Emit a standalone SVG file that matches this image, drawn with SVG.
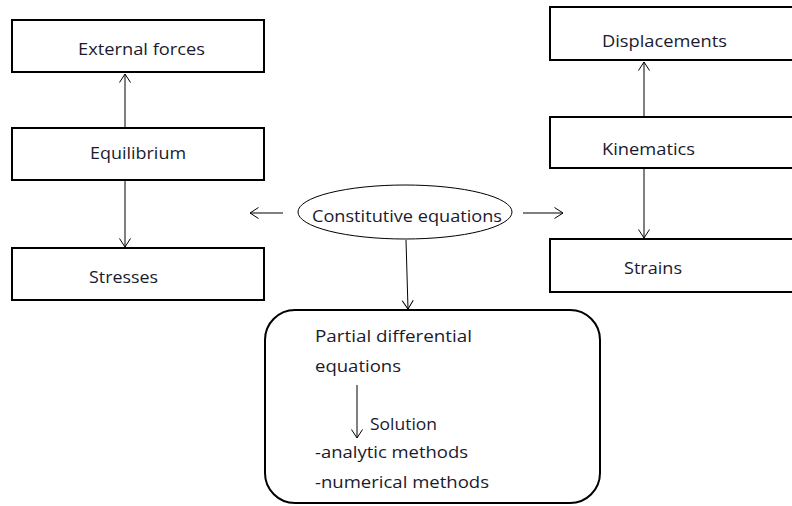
<svg xmlns="http://www.w3.org/2000/svg" width="792" height="506" viewBox="0 0 792 506">
<style>
.box{fill:#fff;stroke:#000;stroke-width:2}
.t{font-family:"Open Sans","Liberation Sans",Arial,sans-serif;font-size:16.5px;fill:#1a1a2e}
.c{stroke:#000;stroke-width:1;fill:none}
</style>
<defs>
<marker id="arr" viewBox="0 0 10 12" refX="9.5" refY="6" markerWidth="10" markerHeight="12" markerUnits="userSpaceOnUse" orient="auto">
<path d="M1,0.5 L9.5,6 L1,11.5" fill="none" stroke="#000" stroke-width="1"/>
</marker>
</defs>
<rect width="792" height="506" fill="#fff"/>
<g id="external-forces"><rect class="box" x="12" y="20" width="252" height="52"/><text class="t" x="78" y="55" textLength="127" lengthAdjust="spacingAndGlyphs">External forces</text></g>
<g id="equilibrium"><rect class="box" x="12" y="128" width="252" height="52"/><text class="t" x="90" y="159" textLength="96" lengthAdjust="spacingAndGlyphs">Equilibrium</text></g>
<g id="stresses"><rect class="box" x="12" y="248" width="252" height="52"/><text class="t" x="89" y="283" textLength="69" lengthAdjust="spacingAndGlyphs">Stresses</text></g>
<g id="displacements"><rect class="box" x="550" y="7" width="250" height="53"/><text class="t" x="602" y="47" textLength="125" lengthAdjust="spacingAndGlyphs">Displacements</text></g>
<g id="kinematics"><rect class="box" x="550" y="117" width="250" height="51"/><text class="t" x="602" y="155" textLength="93" lengthAdjust="spacingAndGlyphs">Kinematics</text></g>
<g id="strains"><rect class="box" x="550" y="239" width="250" height="53"/><text class="t" x="624" y="274" textLength="58" lengthAdjust="spacingAndGlyphs">Strains</text></g>
<g id="constitutive"><ellipse cx="405" cy="212" rx="107" ry="27" fill="#fff" stroke="#000" stroke-width="1"/><text class="t" x="312" y="222" textLength="190" lengthAdjust="spacingAndGlyphs">Constitutive equations</text></g>
<g id="pde"><rect class="box" x="265" y="310" width="335" height="193" rx="30" ry="30" stroke-width="2.5"/>
<text class="t" x="315" y="342" textLength="157" lengthAdjust="spacingAndGlyphs">Partial differential</text>
<text class="t" x="315" y="372" textLength="86" lengthAdjust="spacingAndGlyphs">equations</text>
<text class="t" x="370" y="430" textLength="67" lengthAdjust="spacingAndGlyphs">Solution</text>
<text class="t" x="315" y="458" textLength="153" lengthAdjust="spacingAndGlyphs">-analytic methods</text>
<text class="t" x="315" y="488" textLength="174" lengthAdjust="spacingAndGlyphs">-numerical methods</text>
</g>
<g id="connectors">
<line class="c" x1="125" y1="128" x2="125" y2="74" marker-end="url(#arr)"/>
<line class="c" x1="125" y1="181" x2="125" y2="247" marker-end="url(#arr)"/>
<line class="c" x1="644" y1="117" x2="644" y2="62" marker-end="url(#arr)"/>
<line class="c" x1="644" y1="169" x2="644" y2="238" marker-end="url(#arr)"/>
<line class="c" x1="283" y1="213" x2="250" y2="213" marker-end="url(#arr)"/>
<line class="c" x1="523" y1="213" x2="563" y2="213" marker-end="url(#arr)"/>
<line class="c" x1="406" y1="240" x2="408" y2="309" marker-end="url(#arr)"/>
<line class="c" x1="357" y1="385" x2="357" y2="438" marker-end="url(#arr)"/>
</g>
</svg>
